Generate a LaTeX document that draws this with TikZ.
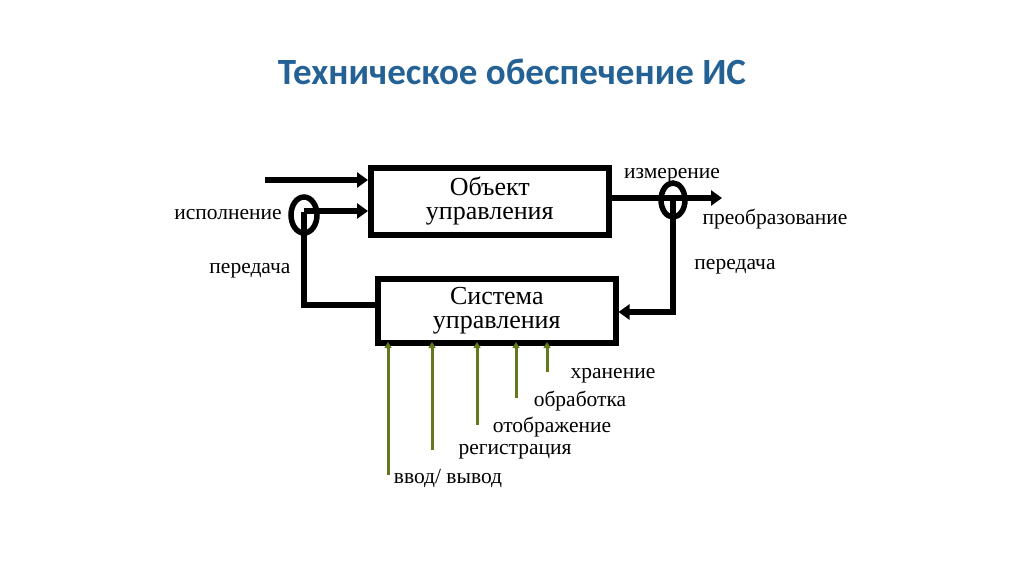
\documentclass[tikz,border=0pt]{standalone}
\usepackage{fontspec}
\setmainfont{Liberation Serif}
\newfontfamily\titlefont{Carlito}
\usetikzlibrary{arrows.meta}
\definecolor{titleblue}{RGB}{36,98,150}
\definecolor{olivegreen}{RGB}{100,120,30}
\begin{document}
\begin{tikzpicture}[x=1pt,y=-1pt,
  box/.style={draw,line width=5.5pt,minimum width=238pt,anchor=north west,align=center,font=\fontsize{26}{24}\selectfont,inner sep=0pt},
  thick/.style={line width=5.5pt},
  bigarrow/.style={line width=5.5pt,-{Triangle[length=11pt,width=15pt]}},
  green/.style={draw=olivegreen,line width=3pt,-{Triangle[length=6pt,width=7pt]}},
  lbl/.style={font=\fontsize{21.5}{22}\selectfont,inner sep=1pt}]
\useasboundingbox (0,0) rectangle (1024,574);
\node[font=\titlefont\bfseries\fontsize{37}{40}\selectfont,text=titleblue] (title) at (512,72) {Техническое обеспечение ИС};
\node[box,minimum height=67pt] (obj) at (368,165) {Объект\\управления};
\node[box,minimum height=64pt] (sys) at (375,276) {Система\\управления};
\draw[thick] (304,215) ellipse (13pt and 18pt);
\draw[thick] (673,200) ellipse (12pt and 17pt);
\coordinate (in0) at (265,180);
\coordinate (lc) at (304,211);
\coordinate (rc) at (673,198);
\coordinate (out) at (722,198);
\draw[bigarrow] (in0) -- (in0 -| obj.west);
\draw[bigarrow] (lc) -- (lc -| obj.west);
\draw[thick] (304,212) -- (304,305) -- (375,305);
\draw[bigarrow] (obj.east |- rc) -- (out);
\draw[thick,-{Triangle[length=11pt,width=15pt]}] (673,200) -- (673,312) -- (sys.east |- 0,312);
\foreach \x/\y in {388/475,432/450,477/425,516/398,547/372}
  \draw[green] (\x,\y) -- (\x,342);
\node[lbl] (isp) at (228,215) {исполнение};
\node[lbl] (per1) at (250,271) {передача};
\node[lbl] (izm) at (672,176) {измерение};
\node[lbl] (pre) at (775,219) {преобразование};
\node[lbl] (per2) at (735,267) {передача};
\node[lbl] (hr) at (613,376) {хранение};
\node[lbl] (ob) at (580,401) {обработка};
\node[lbl] (ot) at (552,427) {отображение};
\node[lbl] (reg) at (515,452) {регистрация};
\node[lbl] (vv) at (448,478) {ввод/ вывод};
\end{tikzpicture}
\end{document}
